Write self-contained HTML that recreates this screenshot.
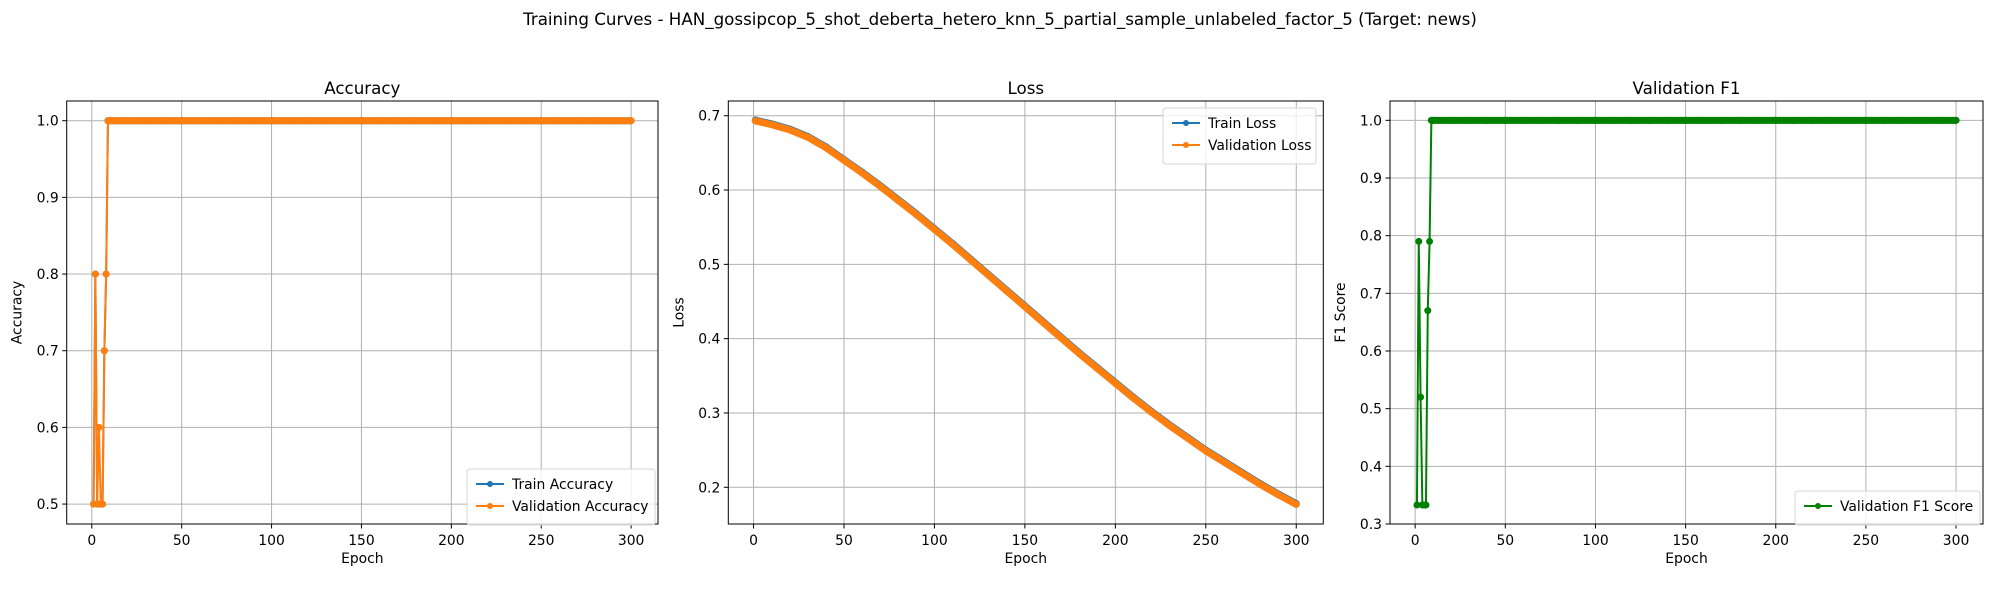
<!DOCTYPE html>
<html><head><meta charset="utf-8"><style>
body{margin:0;background:#fff;}
svg text{font-family:"DejaVu Sans","Liberation Sans",sans-serif;fill:#000;}
</style></head><body>
<svg id="fig" width="2000" height="600" xmlns="http://www.w3.org/2000/svg">
<text x="1000" y="25" font-size="16.7" text-anchor="middle">Training Curves - HAN_gossipcop_5_shot_deberta_hetero_knn_5_partial_sample_unlabeled_factor_5 (Target: news)</text>
</svg>
<script>
// ---- data ----
const accEpochs = [1,2,3,4,5,6,7,8,9,10,20,30,40,50,60,70,80,90,100,110,120,130,140,150,160,170,180,190,200,210,220,230,240,250,260,270,280,290,300];
const trainAcc = [0.5,0.8,0.5,0.5,0.5,0.5,0.7,0.8,1.0,1.0,1.0,1.0,1.0,1.0,1.0,1.0,1.0,1.0,1.0,1.0,1.0,1.0,1.0,1.0,1.0,1.0,1.0,1.0,1.0,1.0,1.0,1.0,1.0,1.0,1.0,1.0,1.0,1.0,1.0];
const valAcc   = [0.5,0.8,0.5,0.6,0.5,0.5,0.7,0.8,1.0,1.0,1.0,1.0,1.0,1.0,1.0,1.0,1.0,1.0,1.0,1.0,1.0,1.0,1.0,1.0,1.0,1.0,1.0,1.0,1.0,1.0,1.0,1.0,1.0,1.0,1.0,1.0,1.0,1.0,1.0];
const lossEpochs = [1,10,20,30,40,50,60,70,80,90,100,110,120,130,140,150,160,170,180,190,200,210,220,230,240,250,260,270,280,290,300];
const trainLoss = [0.694,0.689,0.682,0.672,0.658,0.641,0.624,0.606,0.587,0.568,0.548,0.528,0.507,0.486,0.465,0.444,0.423,0.402,0.381,0.361,0.341,0.321,0.302,0.284,0.267,0.250,0.235,0.220,0.205,0.191,0.178];
const valLoss   = [0.693,0.688,0.681,0.671,0.657,0.640,0.623,0.605,0.586,0.567,0.547,0.527,0.506,0.485,0.464,0.443,0.422,0.401,0.380,0.360,0.340,0.320,0.301,0.283,0.266,0.249,0.234,0.219,0.204,0.190,0.177];
const f1Epochs = accEpochs;
const valF1 = [0.333,0.79,0.52,0.333,0.333,0.333,0.67,0.79,1.0,1.0,1.0,1.0,1.0,1.0,1.0,1.0,1.0,1.0,1.0,1.0,1.0,1.0,1.0,1.0,1.0,1.0,1.0,1.0,1.0,1.0,1.0,1.0,1.0,1.0,1.0,1.0,1.0,1.0,1.0];
const xTicks = [0,50,100,150,200,250,300];
const accTicks = ["0.5","0.6","0.7","0.8","0.9","1.0"];
const lossTicks = ["0.2","0.3","0.4","0.5","0.6","0.7"];
const f1Ticks = ["0.3","0.4","0.5","0.6","0.7","0.8","0.9","1.0"];

const NS="http://www.w3.org/2000/svg";
const fig=document.getElementById('fig');
function mk(tag,attrs,parent){const e=document.createElementNS(NS,tag);for(const k in attrs)e.setAttribute(k,attrs[k]);(parent||fig).appendChild(e);return e;}

function panel(o){
  const g=mk('g',{});
  
  
  const L=o.left,R=o.right,T=101,B=524;
  const sx=v=>L+(v-o.xmin)/(o.xmax-o.xmin)*(R-L);
  const sy=v=>B-(v-o.ymin)/(o.ymax-o.ymin)*(B-T);
  // grid + ticks
  xTicks.forEach(t=>{
    const x=sx(t);
    const gl=mk('line',{x1:x,x2:x,y1:T,y2:B,stroke:'#b0b0b0','stroke-width':1},g);
    
    
    mk('line',{x1:x,x2:x,y1:B,y2:B+4.5,stroke:'#000','stroke-width':1},g);
    const tx=mk('text',{x:x,y:B+21,'font-size':13.9,'text-anchor':'middle'},g);
    tx.textContent=t;
    
    
  });
  o.yticks.forEach(s=>{
    const y=sy(parseFloat(s));
    const gl=mk('line',{x1:L,x2:R,y1:y,y2:y,stroke:'#b0b0b0','stroke-width':1},g);
    
    
    mk('line',{x1:L-4.5,x2:L,y1:y,y2:y,stroke:'#000','stroke-width':1},g);
    const tx=mk('text',{x:L-8,y:y+5,'font-size':13.9,'text-anchor':'end'},g);
    tx.textContent=s;
    
    
  });
  // series
  o.series.forEach(s=>{
    const pts=s.x.map((e,i)=>[sx(e),sy(s.y[i])]);
    const sg=mk('g',{},g);
    
    
    // dense marker band (short segments)
    for(let i=1;i<pts.length;i++){
      const a=pts[i-1],b=pts[i];
      if(Math.abs(b[1]-a[1])<25 && s.x[i]>=9){
        mk('line',{x1:a[0],y1:a[1],x2:b[0],y2:b[1],stroke:s.c,'stroke-width':7,'stroke-linecap':'round'},sg);
      }
    }
    const pl=mk('polyline',{points:pts.map(p=>p.join(',')).join(' '),fill:'none',stroke:s.c,'stroke-width':2,'stroke-linejoin':'round'},sg);
    
    
    pts.forEach(p=>{
      const c=mk('circle',{cx:p[0],cy:p[1],r:3.5,fill:s.c},sg);
      
      
    });
  });
  const fr=mk('rect',{x:L,y:T,width:R-L,height:B-T,fill:'none',stroke:'#000','stroke-width':1},g);
  
  
  const ti=mk('text',{x:(L+R)/2,y:T-7,'font-size':16.7,'text-anchor':'middle'},g);
  ti.textContent=o.title;
  
  
  const xl=mk('text',{x:(L+R)/2,y:563,'font-size':13.9,'text-anchor':'middle'},g);
  xl.textContent='Epoch';
  
  
  const yl=mk('text',{x:0,y:0,'font-size':13.9,'text-anchor':'middle',transform:`translate(${L-o.ylabOff},${(T+B)/2}) rotate(-90)`},g);
  yl.textContent=o.ylabel;
  
  
  // legend
  const lg=mk('g',{},g);
  
  
  const lb=o.legend;
  mk('rect',{x:lb.x,y:lb.y,width:lb.w,height:12+o.series.length*22,rx:3,fill:'#fff','fill-opacity':0.8,stroke:'#d5d5d5','stroke-width':1},lg);
  o.series.forEach((s,i)=>{
    const y=lb.y+15+i*22;
    const le=mk('g',{},lg);
    
    
    mk('line',{x1:lb.x+9,x2:lb.x+37,y1:y,y2:y,stroke:s.c,'stroke-width':2},le);
    mk('circle',{cx:lb.x+23,cy:y,r:3,fill:s.c},le);
    const t=mk('text',{x:lb.x+45,y:y+5,'font-size':13.9},le);
    t.textContent=s.label;
  });
}

panel({name:'accuracy',left:66.7,right:658,xmin:-13.95,xmax:314.95,ymin:0.474,ymax:1.0257,yticks:accTicks,
  title:'Accuracy',ylabel:'Accuracy',ylabOff:45,legend:{x:467,y:469,w:188},
  series:[{key:'train-accuracy',label:'Train Accuracy',c:'#1f77b4',x:accEpochs,y:trainAcc},
          {key:'validation-accuracy',label:'Validation Accuracy',c:'#ff7f0e',x:accEpochs,y:valAcc}]});
panel({name:'loss',left:728.3,right:1323.3,xmin:-13.95,xmax:314.95,ymin:0.1506,ymax:0.7198,yticks:lossTicks,
  title:'Loss',ylabel:'Loss',ylabOff:45,legend:{x:1163,y:108,w:153},
  series:[{key:'train-loss',label:'Train Loss',c:'#1f77b4',x:lossEpochs,y:trainLoss},
          {key:'validation-loss',label:'Validation Loss',c:'#ff7f0e',x:lossEpochs,y:valLoss}]});
panel({name:'validation-f1',left:1390,right:1983,xmin:-13.95,xmax:314.95,ymin:0.3,ymax:1.0335,yticks:f1Ticks,
  title:'Validation F1',ylabel:'F1 Score',ylabOff:45,legend:{x:1795,y:491,w:185},
  series:[{key:'validation-f1',label:'Validation F1 Score',c:'#008000',x:f1Epochs,y:valF1}]});
</script>
</body></html>
